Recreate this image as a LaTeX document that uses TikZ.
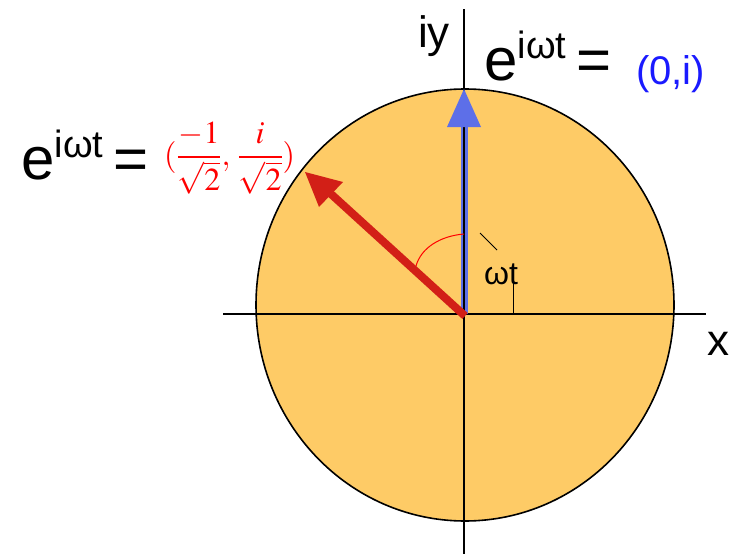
\documentclass[tikz,border=0pt]{standalone}
\usepackage{mathptmx}
\usepackage{fontspec}
\setmainfont{Liberation Sans}
\definecolor{diskfill}{HTML}{FECB66}
\definecolor{arrred}{HTML}{D21F17}
\definecolor{arrblue}{HTML}{5D6FE8}
\definecolor{txtblue}{HTML}{1A1AFF}
\tikzset{
  lbl/.style={inner sep=0pt, anchor=base west},
  axisline/.style={line width=1.3pt, black},
}
\newcommand{\bigfs}{\fontsize{60}{60}\selectfont}
\newcommand{\supfs}{\fontsize{38}{38}\selectfont}
\newcommand{\eiwt}{{\bigfs e\raisebox{22pt}{\supfs iωt}\,=}}
\begin{document}
\begin{tikzpicture}[x=1pt,y=-1pt]
\useasboundingbox (0,0) rectangle (734,554);
\coordinate (O) at (464,314);
\coordinate (C) at (465,305);
% disk
\fill[diskfill] (C) ellipse [x radius=209pt, y radius=216pt];
\draw[line width=1.6pt] (C) ellipse [x radius=209pt, y radius=216pt];
% axes
\coordinate (xl) at (223,314);
\coordinate (xr) at (706,314);
\coordinate (yt) at (464,9);
\coordinate (yb) at (464,554);
\draw[axisline] (xl) -- (xr);
% blue shaft under axis
\coordinate (bbase) at (464,126);
\coordinate (btip) at (464,89);
\draw[arrblue, line width=7pt] (O) -- (bbase);
\draw[axisline] (yt) -- (yb);
\fill[arrblue] (btip) -- (481,127) -- (447,127) -- cycle;
% red arrow
\coordinate (rtip) at (305,172);
\coordinate (rbase) at (331,194);
\draw[arrred, line width=8pt] (465,316) -- (rbase);
\fill[arrred] (rtip) -- (343,182) -- (319,207) -- cycle;
% angle arc
\draw[red, line width=1pt] (464,234) .. controls (440,236) and (421,248) .. (416,266);
% ticks
\coordinate (t1) at (480,233);
\coordinate (t2) at (497,250);
\draw[line width=1pt] (t1) -- (t2);
\coordinate (v1) at (513,282);
\draw[line width=1pt] (v1) -- (513,314);
% labels
\node[lbl] (iy) at (418,47) {\fontsize{44}{44}\selectfont iy};
\node[lbl] (xx) at (707,355) {\fontsize{44}{44}\selectfont x};
\node[lbl] (wt) at (484,284) {\fontsize{32}{32}\selectfont ωt};
\node[lbl] (eb) at (484,80) {\eiwt};
\node[lbl, text=txtblue] (vb) at (636,84) {\fontsize{40}{40}\selectfont (0,i)};
\node[lbl] (er) at (21,179) {\eiwt};
\node[lbl, text=red] (vr) at (164,165) {\fontsize{32}{32}\selectfont $\displaystyle(\frac{-1}{\sqrt{2}},\,\frac{i}{\sqrt{2}})$};
\end{tikzpicture}
\end{document}
